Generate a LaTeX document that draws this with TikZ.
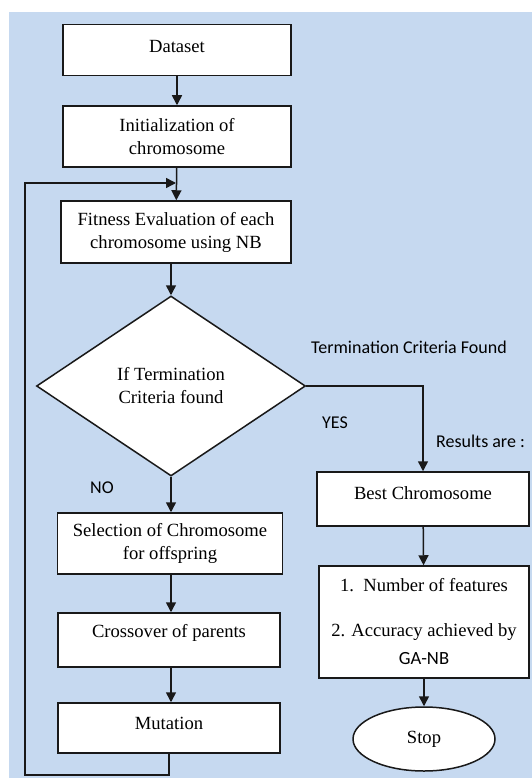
\documentclass[tikz,border=0pt]{standalone}
\usepackage{fontspec}
\setmainfont{Liberation Serif}
\setsansfont{Carlito}
\usetikzlibrary{shapes.geometric,arrows.meta}
\definecolor{bgblue}{RGB}{198,217,240}
\begin{document}
\begin{tikzpicture}[x=1pt,y=1pt]
\tikzstyle{every node}+=[inner sep=0pt, font=\fontsize{18.6}{23}\selectfont]
\tikzstyle{box}=[draw=black!90, fill=white, line width=1.5pt, align=center]
\tikzstyle{arr}=[draw=black!90, line width=1.5pt, -{Triangle[length=10pt,width=10pt]}]
\tikzstyle{tag}=[font=\sffamily\fontsize{18}{22}\selectfont]
\useasboundingbox (0,0) rectangle (532,-778);
\fill [bgblue] (9,-12) rectangle (532,-778);
% main column
\node [box, minimum width=228pt, minimum height=51pt, text depth=8pt] (dataset) at (177,-50) {Dataset};
\node [box, minimum width=228pt, minimum height=61pt] (init) at (177,-136.5) {Initialization of\\chromosome};
\node [box, minimum width=230pt, minimum height=62pt] (fitness) at (176,-232) {Fitness Evaluation of each\\chromosome using NB};
\node [box, diamond, minimum width=269pt, minimum height=180pt] (test) at (171,-386) {If Termination\\Criteria found};
\node [box, minimum width=225pt, minimum height=61pt] (select) at (170,-543.5) {Selection of Chromosome\\for offspring};
\node [box, minimum width=222pt, minimum height=54pt, text depth=19pt] (cross) at (169,-640) {Crossover of parents};
\node [box, minimum width=222pt, minimum height=50pt, text depth=10pt] (mutation) at (169,-728) {Mutation};
% result column
\node [box, minimum width=212pt, minimum height=54pt, text depth=11pt] (best) at (423,-499) {Best Chromosome};
\node [box, minimum width=210pt, minimum height=112pt] (result) at (424,-622) {1.\ \ Number of features\\[22pt]2. Accuracy achieved by\\[5pt]{\sffamily GA-NB}};
\node [box, ellipse, minimum width=142pt, minimum height=64pt] (stop) at (424,-739) {Stop};
% labels
\node [tag] (found) at (409,-347.5) {Termination Criteria Found};
\node [tag] (yes) at (335,-423) {YES};
\node [tag, anchor=west] (results) at (436,-441.5) {Results are :};
\node [tag] (no) at (102,-488) {NO};
% connectors
\coordinate (loop) at (25,-775);
\coordinate (merge) at (176,-183);
\draw [arr] (dataset) -- (init);
\draw [arr] (init) -- (fitness);
\draw [arr] (fitness.south -| test.north) -- (test.north);
\draw [arr] (test.south) -- (select.north -| test.south);
\draw [arr] (select.south -| test.south) -- (cross.north -| test.south);
\draw [arr] (cross.south -| test.south) -- (mutation.north -| test.south);
\draw [arr] (mutation.south) |- (loop) |- (merge);
\draw [arr] (test.east) -| (best.north);
\draw [arr] (best) -- (result);
\draw [arr] (result) -- (stop);
\end{tikzpicture}
\end{document}
